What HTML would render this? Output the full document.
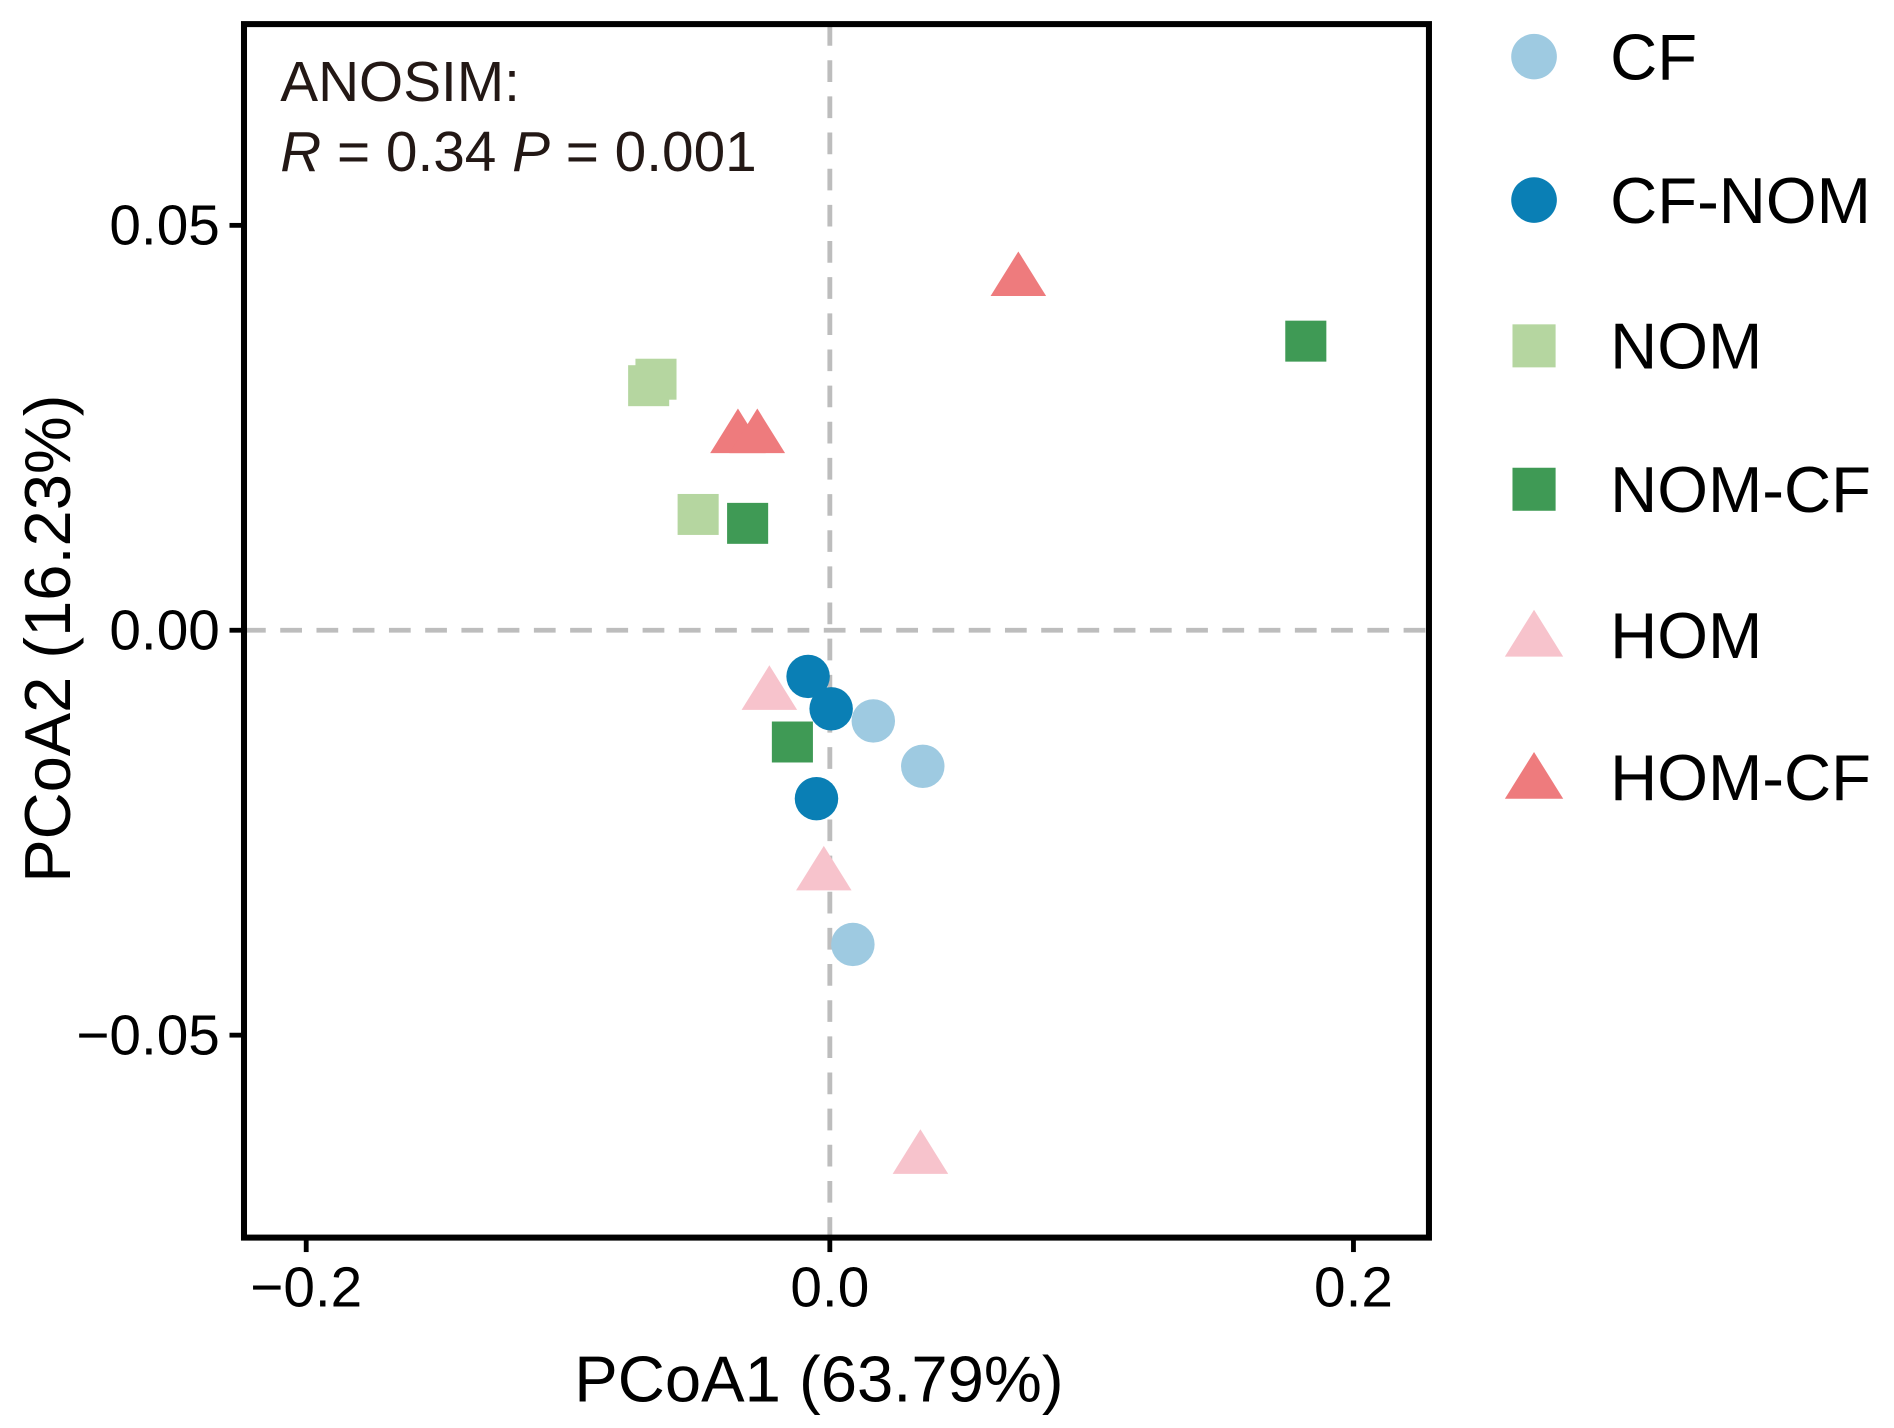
<!DOCTYPE html>
<html><head><meta charset="utf-8"><style>html,body{margin:0;padding:0;background:#fff}svg{display:block}text{font-family:"Liberation Sans",sans-serif}</style></head>
<body>
<svg id="chart" width="1894" height="1428" viewBox="0 0 1568 1185" preserveAspectRatio="none" xmlns="http://www.w3.org/2000/svg">
<g id="plot"></g>
</svg>
<script>
const groups = ["CF","CF-NOM","NOM","NOM-CF","HOM","HOM-CF"];
const colors = ["#9ECAE1","#0A7FB5","#B5D6A0","#3F9A55","#F7C3CC","#EE7B7D"];
const shapes = ["circle","circle","square","square","triangle","triangle"];
const xValues = [
 [0.0166,0.0355,0.0088],
 [-0.0083,0.0005,-0.0051],
 [-0.0692,-0.0664,-0.0503],
 [0.1818,-0.0314,-0.0143],
 [-0.0231,-0.0023,0.0346],
 [0.0720,-0.0351,-0.0277]
];
const yValues = [
 [-0.0112,-0.0168,-0.0388],
 [-0.0057,-0.0097,-0.0208],
 [0.0302,0.0310,0.0143],
 [0.0357,0.0132,-0.0138],
 [-0.0073,-0.0296,-0.0646],
 [0.0438,0.0244,0.0244]
];
const xTicks = [-0.2,0.0,0.2];
const xTickLabels = ["\u22120.2","0.0","0.2"];
const yTicks = [0.05,0.00,-0.05];
const yTickLabels = ["0.05","0.00","\u22120.05"];

const NS="http://www.w3.org/2000/svg";
const svg=document.getElementById('chart');
const g=document.getElementById('plot');
const L=202,R=1183,T=20,B=1027;
const sx=v=>687+v*2167.5;
const sy=v=>523-v*6720;
function el(tag,attrs,parent){const e=document.createElementNS(NS,tag);for(const k in attrs)e.setAttribute(k,attrs[k]);(parent||svg).appendChild(e);return e;}

let l=el('line',{x1:sx(0),x2:sx(0),y1:T,y2:B,stroke:'#bdbdbd','stroke-width':4,'stroke-dasharray':'18,12'},g);


l=el('line',{x1:L,x2:R,y1:sy(0),y2:sy(0),stroke:'#bdbdbd','stroke-width':4,'stroke-dasharray':'18,12'},g);



function marker(shape,cx,cy,color,parent,s){
  s=s||1;let m;
  if(shape==='circle') m=el('circle',{cx:cx,cy:cy,r:18*s,fill:color},parent);
  else if(shape==='square') m=el('rect',{x:cx-17*s,y:cy-17*s,width:34*s,height:34*s,fill:color},parent);
  else m=el('polygon',{points:`${cx},${cy-20*s} ${cx-23*s},${cy+17*s} ${cx+23*s},${cy+17*s}`,fill:color},parent);
  return m;
}
groups.forEach((gr,i)=>{
  xValues[i].forEach((xv,j)=>{
    const m=marker(shapes[i],sx(xv),sy(yValues[i][j]),colors[i],g);
    
    
  });
});

let frame=el('rect',{x:L,y:T,width:R-L,height:B-T,fill:'none',stroke:'#000','stroke-width':5});



xTicks.forEach((v,i)=>{
  const t=el('line',{x1:sx(v),x2:sx(v),y1:B,y2:B+12,stroke:'#000','stroke-width':4});
  
  
  const tx=el('text',{x:sx(v),y:B+57,'text-anchor':'middle','font-size':47,fill:'#000'});
  tx.textContent=xTickLabels[i];
  
  
});
yTicks.forEach((v,i)=>{
  const t=el('line',{x1:L-12,x2:L,y1:sy(v),y2:sy(v),stroke:'#000','stroke-width':4});
  
  
  const tx=el('text',{x:L-20,y:sy(v)+16,'text-anchor':'end','font-size':47,fill:'#000'});
  tx.textContent=yTickLabels[i];
  
  
});

let xt=el('text',{x:678,y:1163,'text-anchor':'middle','font-size':54,fill:'#000'});
xt.textContent='PCoA1 (63.79%)';


let yt=el('text',{x:0,y:0,'text-anchor':'middle','font-size':54,fill:'#000',transform:'translate(58,530) rotate(-90)'});
yt.textContent='PCoA2 (16.23%)';



let a1=el('text',{x:232,y:84,'font-size':47,fill:'#231815'});
a1.textContent='ANOSIM:';


let a2=el('text',{x:232,y:142,'font-size':47,fill:'#231815'});
a2.innerHTML='<tspan font-style="italic">R</tspan> = 0.34 <tspan font-style="italic">P</tspan> = 0.001';



const legY=[47,166,287,406,527,645];
groups.forEach((gr,i)=>{
  const lg=el('g',{});
  
  
  marker(shapes[i],1270,legY[i],colors[i],lg,1.05);
  const t=el('text',{x:1333,y:legY[i]+19,'font-size':54,fill:'#000'},lg);
  t.textContent=gr;
});
</script>
</body></html>
